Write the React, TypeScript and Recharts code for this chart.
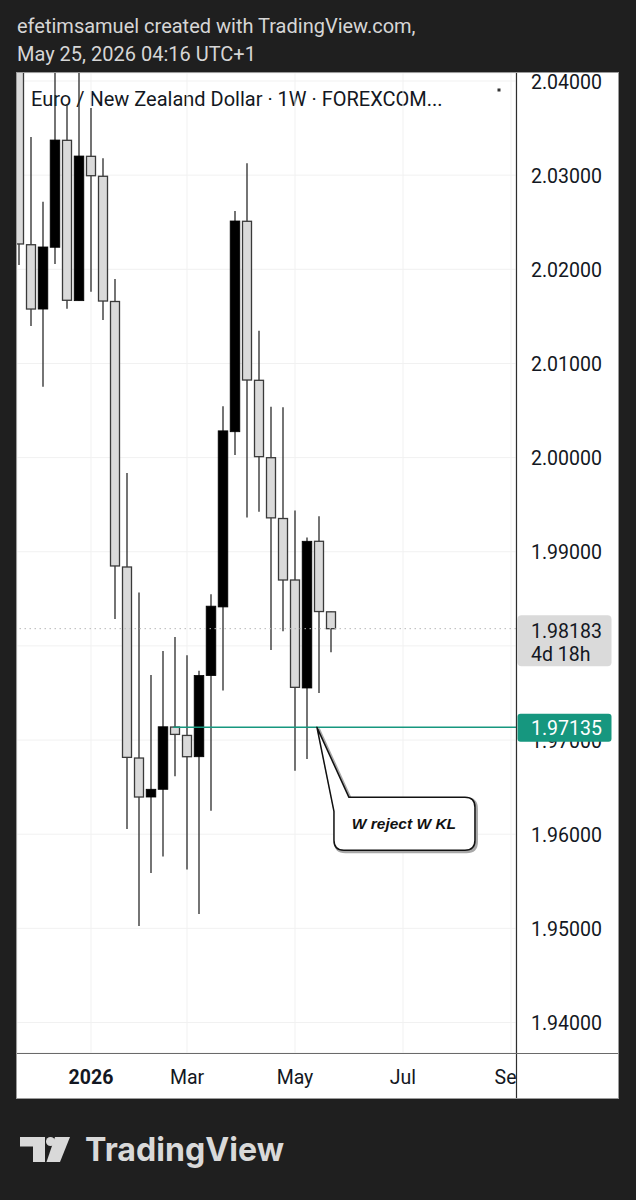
import React from 'react';
import { ComposedChart, Bar, XAxis, YAxis, CartesianGrid, ReferenceLine, ReferenceDot } from 'recharts';

// ---- data (weekly EUR/NZD candles, Nov 24 2025 .. May 25 2026) ----
const weeks = [0, 1, 2, 3, 4, 5, 6, 7, 8, 9, 10, 11, 12, 13, 14, 15, 16, 17, 18, 19, 20, 21, 22, 23, 24, 25, 26];
const opens = [2.044, 2.02261, 2.01578, 2.02234, 2.0337, 2.01667, 2.032, 2.02988, 2.01658, 1.98838, 1.96809, 1.96395, 1.96477, 1.97138, 1.97049, 1.96823, 1.97685, 1.98414, 2.00275, 2.0251, 2.00821, 1.99999, 1.99353, 1.987, 1.97553, 1.99111, 1.98362];
const highs = [2.0455, 2.03405, 2.02718, 2.0425, 2.03756, 2.043, 2.03713, 2.03179, 2.01897, 1.99836, 1.98568, 1.97691, 1.97946, 1.98095, 1.979, 1.97736, 1.98549, 2.00546, 2.02619, 2.03126, 2.01348, 2.00541, 2.00534, 1.99438, 1.99152, 1.99378, 1.98365];
const lows = [2.02046, 2.01398, 2.00753, 2.02056, 2.01582, 2.01665, 2.01762, 2.01462, 1.98286, 1.96055, 1.95025, 1.95588, 1.95764, 1.96615, 1.95626, 1.95152, 1.9625, 1.97527, 2.00028, 1.99364, 1.99425, 1.97956, 1.98155, 1.96674, 1.96799, 1.975, 1.97932];
const closes = [2.02269, 2.01578, 2.02237, 2.03373, 2.01671, 2.03203, 2.02994, 2.01663, 1.98849, 1.96816, 1.96395, 1.96477, 1.97141, 1.9706, 1.96823, 1.97685, 1.98422, 2.00284, 2.02513, 2.00824, 2.0001, 1.9936, 1.987, 1.9756, 1.99111, 1.98365, 1.98183];

const priceTicks = [1.94, 1.95, 1.96, 1.97, 1.98, 1.99, 2.0, 2.01, 2.02, 2.03, 2.04];
const timeTicks = [6, 14, 23, 32, 41];
const timeLabels = ['2026', 'Mar', 'May', 'Jul', 'Sep'];

const lastPrice = 1.98183;
const countdown = '4d 18h';
const keyLevel = 1.97135;
const keyLevelStart = 12.85;
const noteAt = 24.83;
const noteText = 'W reject W KL';

const X_MIN = -0.1667;
const X_MAX = 41.4167;
const Y_MIN = 1.93676;
const Y_MAX = 2.04085;

const PLOT_W = 499;

const data = weeks.map((w, k) => ({
  i: w,
  range: [lows[k], highs[k]],
  o: opens[k],
  h: highs[k],
  l: lows[k],
  c: closes[k],
}));

const FONT = 'Roboto, "Noto Sans", sans-serif';
const TEXT = '#131722';
const TEAL = '#16977f';

const Candle = (props: any) => {
  const { x, y, width, height, payload } = props;
  if (x == null || y == null || height == null || !payload) return null;
  const { o, h, l, c } = payload;
  const cx = x + width / 2;
  const top = Math.min(y, y + height);
  const bot = Math.max(y, y + height);
  const span = h - l;
  const k = span > 0 ? (bot - top) / span : 0;
  const yOf = (p: number) => top + (h - p) * k;
  const up = c >= o;
  const bTop = yOf(Math.max(o, c));
  const bBot = yOf(Math.min(o, c));
  const bh = Math.max(1, bBot - bTop);
  const bw = 9;
  return (
    <g>
      <line x1={cx} x2={cx} y1={top} y2={bot} stroke="#2a2a2a" strokeWidth={1.3} />
      {up ? (
        <rect x={cx - bw / 2 - 0.3} y={bTop} width={bw + 0.6} height={bh} fill="#000" stroke="#000" strokeWidth={0.8} />
      ) : (
        <rect x={cx - bw / 2} y={bTop} width={bw} height={bh} fill="#dadada" stroke="#3a3a3a" strokeWidth={1.3} />
      )}
    </g>
  );
};

const PriceTick = (props: any) => {
  const { x, y, payload } = props;
  return (
    <text x={x} y={y + 7.5} fontFamily={FONT} fontSize={19.5} fill={TEXT} textAnchor="start">
      {Number(payload.value).toFixed(5)}
    </text>
  );
};

const TimeTick = (props: any) => {
  const { x, y, payload } = props;
  const k = timeTicks.indexOf(payload.value);
  const label = k >= 0 ? timeLabels[k] : '';
  const id = 'tclip' + k;
  return (
    <g>
      <defs>
        <clipPath id={id} clipPathUnits="userSpaceOnUse">
          <rect x={-20} y={y - 10} width={PLOT_W + 20} height={80} />
        </clipPath>
      </defs>
      <text
        x={x}
        y={y + 31}
        clipPath={`url(#${id})`}
        fontFamily={FONT}
        fontSize={19.5}
        fontWeight={k === 0 ? 'bold' : 'normal'}
        fill={TEXT}
        textAnchor="middle"
      >
        {label}
      </text>
    </g>
  );
};

const LastPriceLabel = (props: any) => {
  const { cx, cy } = props;
  if (cx == null || cy == null) return null;
  return (
    <g>
      <rect x={cx + 1.5} y={cy - 13.5} width={94} height={51} rx={4} fill="#dadada" />
      <text x={cx + 15} y={cy + 9} fontFamily={FONT} fontSize={19.5} fill={TEXT}>
        {lastPrice.toFixed(5)}
      </text>
      <text x={cx + 15} y={cy + 32.5} fontFamily={FONT} fontSize={19.5} fill={TEXT}>
        {countdown}
      </text>
    </g>
  );
};

const KeyLevelLabel = (props: any) => {
  const { cx, cy } = props;
  if (cx == null || cy == null) return null;
  return (
    <g>
      <rect x={cx + 1.5} y={cy - 13.5} width={94} height={28} rx={3} fill={TEAL} />
      <text x={cx + 15} y={cy + 8} fontFamily={FONT} fontSize={19.5} fill="#ffffff">
        {keyLevel.toFixed(5)}
      </text>
    </g>
  );
};

const Callout = (props: any) => {
  const { cx, cy } = props;
  if (cx == null || cy == null) return null;
  const d = `M${cx},${cy} L${cx + 32},${cy + 70} H${cx + 148} Q${cx + 158},${cy + 70} ${cx + 158},${cy + 80} V${cy + 113} Q${cx + 158},${cy + 123} ${cx + 148},${cy + 123} H${cx + 27} Q${cx + 17},${cy + 123} ${cx + 17},${cy + 113} V${cy + 84} Z`;
  return (
    <g>
      <path d={d} transform="translate(1.5,1.5)" fill="none" stroke="#a8a8a8" strokeWidth={3} />
      <path d={d} fill="#ffffff" stroke="#111111" strokeWidth={1.5} strokeLinejoin="round" />
      <text
        x={cx + 87}
        y={cy + 101.5}
        textAnchor="middle"
        fontFamily='"Liberation Sans", Arial, sans-serif'
        fontWeight="bold"
        fontStyle="italic"
        fontSize={15.5}
        fill="#111111"
      >
        {noteText}
      </text>
    </g>
  );
};

const CHART_W = 601;
const CHART_H = 1025;

export default function App() {
  const xAxisProps = {
    dataKey: 'i',
    type: 'number' as const,
    domain: [X_MIN, X_MAX],
    allowDataOverflow: true,
    ticks: timeTicks,
    interval: 0 as const,
    height: 45,
    tickSize: 0,
    tickMargin: 0,
    axisLine: false,
    tickLine: false,
  };
  const yAxisProps = {
    orientation: 'right' as const,
    type: 'number' as const,
    domain: [Y_MIN, Y_MAX],
    allowDataOverflow: true,
    ticks: priceTicks,
    interval: 0 as const,
    width: 102,
    tickSize: 0,
    tickMargin: 15,
    axisLine: false,
    tickLine: false,
  };
  return (
    <div style={{ position: 'absolute', left: 0, top: 0, width: 636, height: 1200, background: '#1f1f1f', overflow: 'hidden' }}>
      <svg width={636} height={1200} style={{ position: 'absolute', left: 0, top: 0 }}>
        <text x={17} y={33} fontFamily={FONT} fontSize={20} fill="#d6d6d6">
          efetimsamuel created with TradingView.com,
        </text>
        <text x={17} y={61} fontFamily={FONT} fontSize={20} fill="#d6d6d6">
          May 25, 2026 04:16 UTC+1
        </text>
        <rect x={16.5} y={72.5} width={602} height={1026} fill="#ffffff" stroke="#9b9b9b" strokeWidth={1} />
        <text x={31} y={105.5} fontFamily={FONT} fontSize={20} fill={TEXT}>
          Euro / New Zealand Dollar · 1W · FOREXCOM...
        </text>
        <rect x={497.5} y={88.5} width={3} height={3} fill="#333" />
        {/* TradingView logo */}
        <g fill="#d9d9d9">
          <path d="M20 1137 H45 V1162 H33 V1146.5 H20 Z" />
          <circle cx={50.5} cy={1141.5} r={4.5} />
          <path d="M55 1137 H70 L60 1162 H46.5 Z" />
          <text x={85} y={1161} fontFamily='Inter, "Open Sans", sans-serif' fontWeight={700} fontSize={33} textLength={199} lengthAdjust="spacingAndGlyphs">
            TradingView
          </text>
        </g>
      </svg>

      {/* main chart: grid, axes, levels, candles, note */}
      <div style={{ position: 'absolute', left: 17, top: 73 }}>
        <ComposedChart width={CHART_W} height={CHART_H} data={data} margin={{ top: 0, right: 0, bottom: 0, left: 0 }}>
          <CartesianGrid stroke="#f1f1f1" />
          <XAxis {...xAxisProps} tick={TimeTick} />
          <YAxis {...yAxisProps} tick={PriceTick} />
          <ReferenceLine y={lastPrice} stroke="#b8b8b8" strokeDasharray="1.5 3.5" ifOverflow="visible" />
          <ReferenceLine
            segment={[{ x: keyLevelStart, y: keyLevel }, { x: X_MAX, y: keyLevel }]}
            stroke={TEAL}
            strokeWidth={1.5}
            ifOverflow="visible"
          />
          <Bar dataKey="range" barSize={10} shape={Candle} isAnimationActive={false} />
          <ReferenceDot x={noteAt} y={keyLevel} r={1} ifOverflow="visible" shape={Callout} />
        </ComposedChart>
      </div>

      {/* price-axis labels layer, same scales, drawn above the tick labels */}
      <div style={{ position: 'absolute', left: 17, top: 73 }}>
        <ComposedChart width={CHART_W} height={CHART_H} data={data} margin={{ top: 0, right: 0, bottom: 0, left: 0 }}>
          <XAxis {...xAxisProps} tick={false} />
          <YAxis {...yAxisProps} tick={false} />
          <ReferenceDot x={X_MAX} y={lastPrice} r={1} ifOverflow="visible" shape={LastPriceLabel} />
          <ReferenceDot x={X_MAX} y={keyLevel} r={1} ifOverflow="visible" shape={KeyLevelLabel} />
        </ComposedChart>
      </div>

      <svg width={636} height={1200} style={{ position: 'absolute', left: 0, top: 0, pointerEvents: 'none' }}>
        <line x1={516.5} x2={516.5} y1={73} y2={1098} stroke="#2e2e2e" strokeWidth={1.2} />
        <line x1={17} x2={618} y1={1053.5} y2={1053.5} stroke="#6a6a6a" strokeWidth={1.2} />
      </svg>
    </div>
  );
}
